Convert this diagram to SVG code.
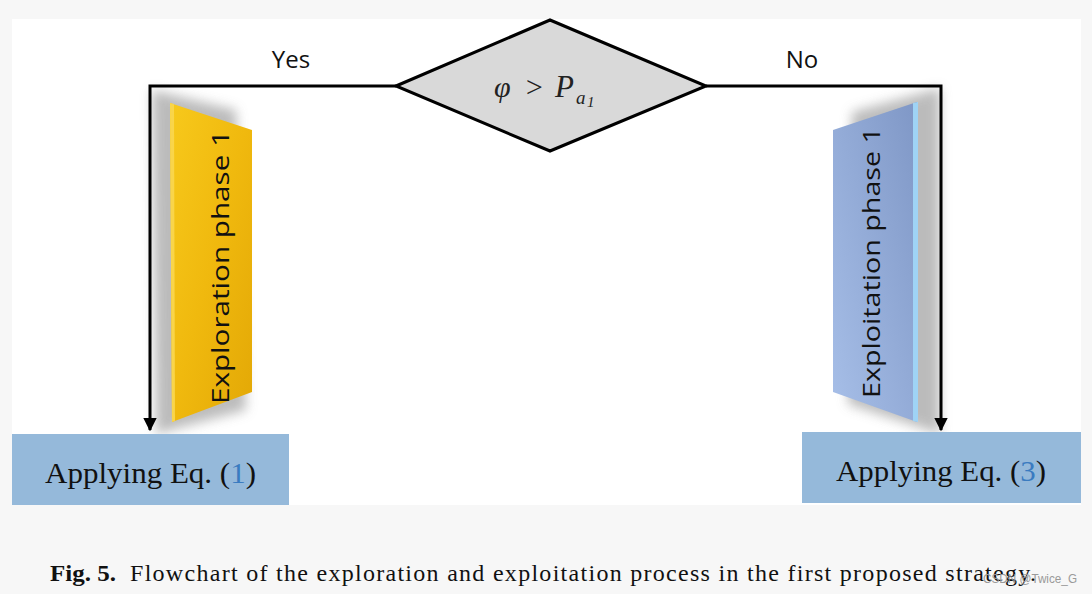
<svg xmlns="http://www.w3.org/2000/svg" width="1092" height="594" viewBox="0 0 1092 594">
<defs>
<style>
.lbl{font-family:"Open Sans","Noto Sans",sans-serif;font-size:24px;fill:#111}
.eq{font-family:"Liberation Serif","Times New Roman",serif;font-size:30px;fill:#111}
.ph{font-family:"Open Sans","Noto Sans",sans-serif;font-size:24px;fill:#111}
.math{font-family:"Liberation Serif","Times New Roman",serif;font-style:italic;fill:#222}
.cap{font-family:"Liberation Serif","Times New Roman",serif;font-size:24px;fill:#111}
.conn{fill:none;stroke:#000;stroke-width:3}
.box{fill:#95b9da}
</style>
<marker id="arr" viewBox="0 0 10 10" refX="9" refY="5" markerWidth="4.5" markerHeight="4.5" orient="auto" markerUnits="strokeWidth">
<path d="M0,0 L10,5 L0,10 Z" fill="#000"/>
</marker>
<linearGradient id="yel" x1="0" y1="0" x2="1" y2="1">
<stop offset="0" stop-color="#f7c91c"/>
<stop offset="0.5" stop-color="#f0b90e"/>
<stop offset="1" stop-color="#e3a806"/>
</linearGradient>
<linearGradient id="blu" x1="0" y1="1" x2="1" y2="0">
<stop offset="0" stop-color="#a7bfe8"/>
<stop offset="1" stop-color="#7f97c6"/>
</linearGradient>
<filter id="blur" x="-30%" y="-10%" width="160%" height="120%">
<feGaussianBlur stdDeviation="6"/>
</filter>
</defs>
<rect x="0" y="0" width="1092" height="594" fill="#f7f7f7"/>
<rect x="12" y="19" width="1069" height="486" fill="#ffffff"/>

<g id="shadows">
<polygon points="152,90 236,110 246,410 156,434" fill="#b0b0b0" opacity="0.85" filter="url(#blur)"/>
<polygon points="852,112 940,88 940,434 848,404" fill="#b0b0b0" opacity="0.85" filter="url(#blur)"/>
</g>

<g id="connectors">
<polyline class="conn" points="396,86 150,86 150,430" marker-end="url(#arr)"/>
<polyline class="conn" points="706,86 941,86 941,430" marker-end="url(#arr)"/>
</g>

<g id="decision">
<polygon points="396,86 550,20 706,86 550,151" fill="#d9d9d9" stroke="#000" stroke-width="3" stroke-linejoin="miter"/>
<text class="math" x="494" y="97" font-size="30">φ</text>
<text class="math" x="524" y="97" font-size="30" font-style="normal">&gt;</text>
<text class="math" x="555" y="97" font-size="31">P</text>
<text class="math" x="576" y="104" font-size="19">a</text>
<text class="math" x="587" y="107" font-size="15" font-style="normal">1</text>
</g>

<g id="label-yes"><text class="lbl" x="291" y="68" text-anchor="middle">Yes</text></g>
<g id="label-no"><text class="lbl" x="802" y="68" text-anchor="middle">No</text></g>

<g id="exploration-phase">
<polygon points="170,103 252,130 252,392 172,422" fill="url(#yel)"/>
<polygon points="170,103 174,104 175,421 172,422" fill="#f9d54a"/>
<text class="ph" transform="translate(229,404) rotate(-90)" textLength="274" lengthAdjust="spacingAndGlyphs">Exploration phase 1</text>
</g>

<g id="exploitation-phase">
<polygon points="833,130 917,102 917,422 833,392" fill="url(#blu)"/>
<polygon points="913,103 918,102 918,422 913,421" fill="#9fd3f5"/>
<text class="ph" transform="translate(880,398) rotate(-90)" textLength="271" lengthAdjust="spacingAndGlyphs">Exploitation phase 1</text>
</g>

<g id="apply-eq1">
<rect class="box" x="12" y="434" width="277" height="71"/>
<text class="eq" x="45" y="483" textLength="211" lengthAdjust="spacingAndGlyphs">Applying Eq. (<tspan fill="#3a7bc0">1</tspan>)</text>
</g>

<g id="apply-eq3">
<rect class="box" x="802" y="432" width="279" height="71"/>
<text class="eq" x="836" y="481" textLength="210" lengthAdjust="spacingAndGlyphs">Applying Eq. (<tspan fill="#3a7bc0">3</tspan>)</text>
</g>

<g id="caption">
<text class="cap" x="50" y="581" font-weight="bold" textLength="66" lengthAdjust="spacingAndGlyphs">Fig. 5.</text>
<text class="cap" x="130" y="581" textLength="906" lengthAdjust="spacing">Flowchart of the exploration and exploitation process in the first proposed strategy.</text>
<text x="983" y="583" font-family="Liberation Sans, Arial, sans-serif" font-size="13" fill="#9a9a9a" textLength="94" lengthAdjust="spacingAndGlyphs">CSDN @Twice_G</text>
</g>
</svg>
